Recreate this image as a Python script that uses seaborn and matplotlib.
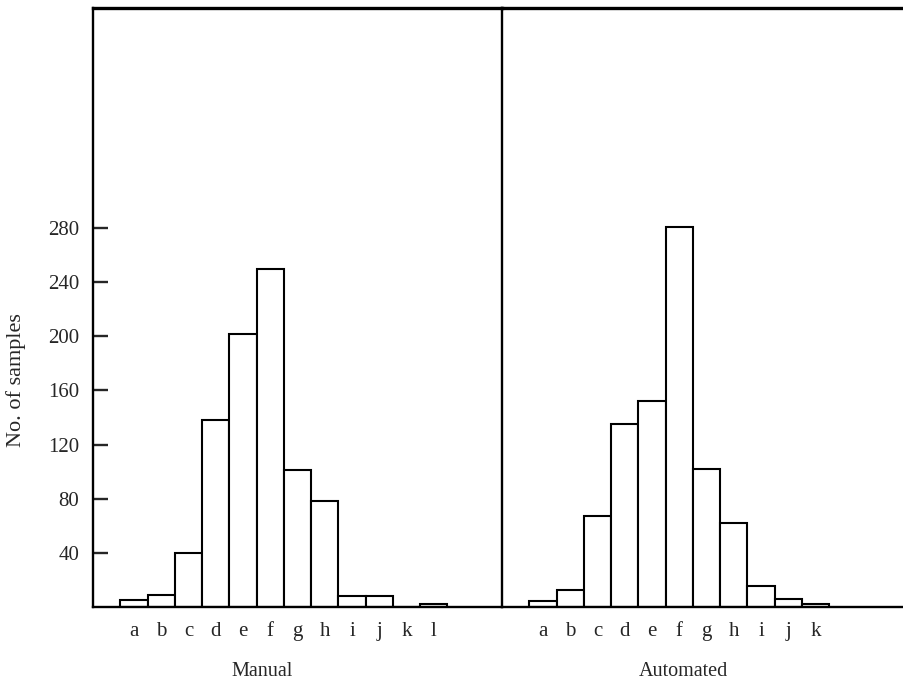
import matplotlib
matplotlib.use("Agg")
import matplotlib.pyplot as plt
import matplotlib.transforms as mtransforms
import seaborn as sns
import pandas as pd

# ---- data ----
manual_cats = ["a", "b", "c", "d", "e", "f", "g", "h", "i", "j", "k", "l"]
manual_vals = [5, 9, 40, 138, 202, 250, 101, 78, 8, 8, 0, 2]

auto_cats = ["a", "b", "c", "d", "e", "f", "g", "h", "i", "j", "k"]
auto_vals = [4, 12, 67, 135, 152, 281, 102, 62, 15, 6, 2]

y_ticks = [40, 80, 120, 160, 200, 240, 280]
panel_titles = ["Manual", "Automated"]
y_title = "No. of samples"

sns.set_style("ticks")
plt.rcParams["font.family"] = ["Liberation Serif", "DejaVu Serif"]

W, H = 904, 683
fig = plt.figure(figsize=(W / 100, H / 100), dpi=100)

bottom = 1 - 606.7 / H
height = (606.7 - 8) / H
ax1 = fig.add_axes([93 / W, bottom, 409 / W, height])
ax2 = fig.add_axes([502 / W, bottom, 402 / W, height])

lw_bar = 1.5
df1 = pd.DataFrame({"cat": manual_cats, "n": manual_vals})
df2 = pd.DataFrame({"cat": auto_cats, "n": auto_vals})

sns.barplot(data=df1, x="cat", y="n", order=manual_cats, ax=ax1, width=1.0,
            color="white", saturation=1, edgecolor="black", linewidth=lw_bar)
sns.barplot(data=df2, x="cat", y="n", order=auto_cats, ax=ax2, width=1.0,
            color="white", saturation=1, edgecolor="black", linewidth=lw_bar)

ymax = 443
ax1.set_xlim(-1.5, 13.5)
ax2.set_xlim(-1.5, 13.24)
for ax in (ax1, ax2):
    ax.set_ylim(0, ymax)
    ax.set_xlabel("")
    ax.set_ylabel("")
    ax.tick_params(axis="x", length=0, pad=11, labelsize=15)
    for side in ("top", "bottom", "left", "right"):
        ax.spines[side].set_linewidth(1.7)
        ax.spines[side].set_color("black")
    ax.spines["top"].set_linewidth(2.4)
    ax.patch.set_alpha(0)

ax1.set_yticks(y_ticks)
ax1.set_yticklabels([str(t) for t in y_ticks])
ax1.tick_params(axis="y", direction="in", length=11, width=1.7, pad=10, labelsize=15)

ax2.set_yticks([])
ax2.spines["left"].set_visible(False)
ax2.spines["right"].set_visible(False)
ax1.spines["right"].set_visible(True)

ax1.set_ylabel(y_title, fontsize=16, va="center")
ax1.yaxis.set_label_coords(-0.188, 0.379)

for ax, title, xpos in ((ax1, panel_titles[0], 4.7), (ax2, panel_titles[1], 5.15)):
    tr = mtransforms.blended_transform_factory(ax.transData, ax.transAxes)
    ax.text(xpos, -0.109, title, transform=tr, ha="center", va="center", fontsize=14.5)

fig.savefig("out.png", dpi=100)
